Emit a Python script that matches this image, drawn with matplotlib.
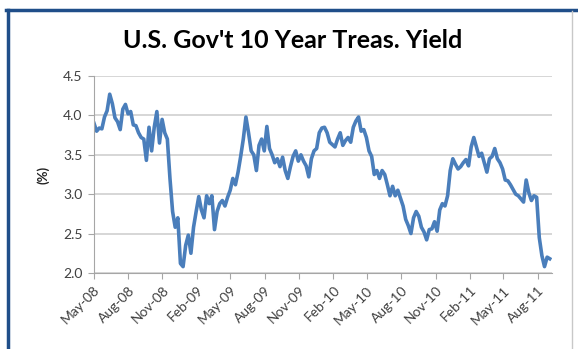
import pandas as pd
import matplotlib
matplotlib.use("Agg")
import matplotlib.pyplot as plt
import matplotlib.dates as mdates
from matplotlib.lines import Line2D

plt.rcParams['font.family'] = ['Lato', 'DejaVu Sans']

# weekly readings of the 10 year yield (%), one block per month
y2008 = [3.90, 3.80, 3.84, 3.83, 3.98,        # May
         4.06, 4.27, 4.15, 3.97,              # Jun
         3.92, 3.82, 4.08, 4.14,              # Jul
         4.02, 4.05, 3.88, 3.87, 3.78,        # Aug
         3.72, 3.70, 3.43, 3.85,              # Sep
         3.55, 3.85, 4.05, 3.65, 3.95,        # Oct
         3.78, 3.70, 3.20, 2.78,              # Nov
         2.58, 2.70, 2.12, 2.08]              # Dec
y2009 = [2.35, 2.48, 2.25, 2.58, 2.78,        # Jan
         2.97, 2.80, 2.70, 2.98,              # Feb
         2.88, 2.98, 2.55, 2.78,              # Mar
         2.88, 2.92, 2.85, 2.96,              # Apr
         3.05, 3.20, 3.12, 3.28, 3.48,        # May
         3.70, 3.98, 3.78, 3.55,              # Jun
         3.50, 3.30, 3.62, 3.70, 3.55,        # Jul
         3.86, 3.58, 3.50, 3.40,              # Aug
         3.45, 3.35, 3.47, 3.30,              # Sep
         3.20, 3.35, 3.48, 3.55, 3.42,        # Oct
         3.50, 3.42, 3.36, 3.22,              # Nov
         3.45, 3.55, 3.58, 3.78]              # Dec
y2010 = [3.84, 3.85, 3.78, 3.66, 3.63,        # Jan
         3.60, 3.70, 3.78, 3.62,              # Feb
         3.68, 3.72, 3.66, 3.85,              # Mar
         3.93, 3.98, 3.80, 3.82, 3.72,        # Apr
         3.55, 3.48, 3.25, 3.30,              # May
         3.20, 3.30, 3.25, 3.12,              # Jun
         2.98, 3.10, 2.98, 3.05, 2.95,        # Jul
         2.85, 2.68, 2.60, 2.50,              # Aug
         2.70, 2.78, 2.72, 2.58,              # Sep
         2.52, 2.42, 2.55, 2.56, 2.65,        # Oct
         2.53, 2.80, 2.88, 2.85,              # Nov
         2.98, 3.30, 3.45, 3.38, 3.32]        # Dec
y2011 = [3.35, 3.40, 3.44, 3.36,              # Jan
         3.60, 3.72, 3.60, 3.48,              # Feb
         3.52, 3.40, 3.28, 3.45,              # Mar
         3.48, 3.58, 3.45, 3.40, 3.32,        # Apr
         3.18, 3.17, 3.12, 3.06,              # May
         3.00, 2.98, 2.94, 2.90,              # Jun
         3.18, 3.02, 2.92, 2.98, 2.96,        # Jul
         2.45, 2.22, 2.08, 2.20,              # Aug
         2.18]                                # Sep

yields = y2008 + y2009 + y2010 + y2011
dates = pd.date_range("2008-05-02", periods=len(yields), freq="W-FRI")

tick_dates = pd.date_range("2008-05-01", "2011-08-01", freq="3MS")

fig = plt.figure(figsize=(5.78, 3.49), dpi=100)
ax = fig.add_axes([0.162, 0.218, 0.793, 0.564])

ax.plot(dates, yields, color="#4A7EBB", lw=2.6)

ax.set_xlim(pd.Timestamp("2008-05-01"), pd.Timestamp("2011-09-08"))
ax.set_ylim(2.0, 4.5)
ax.set_yticks([2.0, 2.5, 3.0, 3.5, 4.0, 4.5])
ax.yaxis.set_major_formatter(plt.FormatStrFormatter("%.1f"))
ax.set_xticks(tick_dates)
ax.xaxis.set_major_formatter(mdates.DateFormatter("%b-%y"))
plt.setp(ax.get_xticklabels(), rotation=45, ha="right", rotation_mode="anchor")

ax.grid(axis="y", color="#D0D0D0", lw=1.2)
ax.set_axisbelow(True)
for s in ["top", "right"]:
    ax.spines[s].set_visible(False)
for s in ["left", "bottom"]:
    ax.spines[s].set_color("#A6A6A6")
ax.tick_params(colors="#A6A6A6", labelcolor="#404040", labelsize=10, length=4, pad=4)

ax.set_ylabel("(%)", fontsize=9.5, fontweight="bold", color="#202020", labelpad=10)
fig.text(0.507, 0.885, "U.S. Gov't 10 Year Treas. Yield", ha="center", va="center",
         fontsize=18, fontweight="bold", color="#000000")

# chart frame
fig.add_artist(Line2D([6 / 578, 1.0], [1 - 9.5 / 349] * 2, color="#1F4E89", lw=2.5))
fig.add_artist(Line2D([7.5 / 578] * 2, [0.0, 1 - 9.5 / 349], color="#1F4E89", lw=2.5))
fig.add_artist(Line2D([572 / 578] * 2, [0.0, 1 - 11 / 349], color="#C8C8C8", lw=1.0))

fig.savefig("out.png", dpi=100)
